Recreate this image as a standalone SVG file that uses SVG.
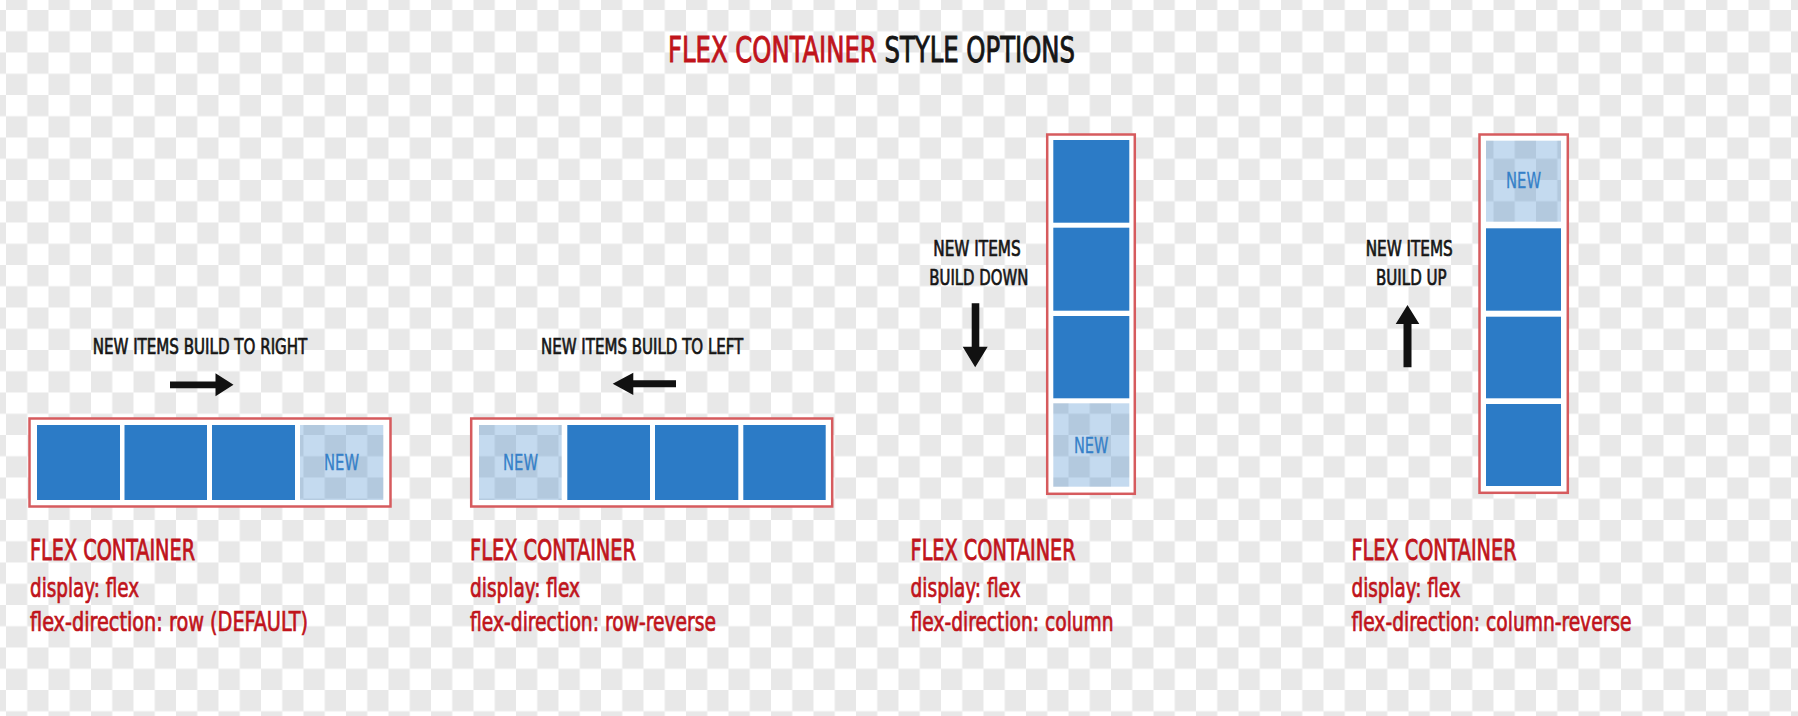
<svg xmlns="http://www.w3.org/2000/svg" width="1798" height="716" viewBox="0 0 1798 716">
  <defs>
    <pattern id="checker" patternUnits="userSpaceOnUse" x="6" y="10" width="42.5" height="42.5">
      <rect x="0" y="0" width="42.5" height="42.5" fill="#ffffff"/>
      <rect x="21.25" y="0" width="21.25" height="21.25" fill="#e8e8e8"/>
      <rect x="0" y="21.25" width="21.25" height="21.25" fill="#e8e8e8"/>
    </pattern>
    <style>
      .box { fill: #ffffff; stroke: #d65b5e; stroke-width: 2.5; }
      .item { fill: #2c7bc6; }
      .ghostbg { fill: url(#checker); }
      .ghost { fill: #2c7bc6; fill-opacity: 0.28; }
      text { font-family: "Liberation Sans Narrow", "DejaVu Sans Condensed", "Liberation Sans", sans-serif; }
      .newtxt { font-size: 22px; fill: #3580c8; stroke: #3580c8; stroke-width: 0.3; }
      .lbl { font-size: 22px; fill: #151515; stroke: #151515; stroke-width: 0.7; }
      .title { font-size: 35px; stroke-width: 0.9; }
      .red { fill: #c0141b; stroke: #c0141b; }
      .blk { fill: #151515; stroke: #151515; }
      .head { font-size: 29px; fill: #c0141b; stroke: #c0141b; stroke-width: 0.8; }
      .body { font-size: 26px; fill: #c0141b; stroke: #c0141b; stroke-width: 0.7; }
      .arrow { fill: #111111; }
    </style>
  </defs>

  <rect x="0" y="0" width="1798" height="716" fill="url(#checker)"/>

  <g id="title">
    <text class="title" x="668" y="62" textLength="407" lengthAdjust="spacingAndGlyphs"><tspan class="red">FLEX CONTAINER</tspan><tspan class="blk"> STYLE OPTIONS</tspan></text>
  </g>

  <!-- Container 1: row -->
  <g id="container-row">
    <rect class="box" x="29.5" y="418.5" width="361" height="88"/>
    <rect class="item" x="37" y="425" width="83" height="75"/>
    <rect class="item" x="124.5" y="425" width="82.5" height="75"/>
    <rect class="item" x="212" y="425" width="83" height="75"/>
    <rect class="ghostbg" x="300" y="425" width="83.3" height="75"/>
    <rect class="ghost" x="300" y="425" width="83.3" height="75"/>
    <text class="newtxt" x="341.5" y="470" text-anchor="middle" textLength="35" lengthAdjust="spacingAndGlyphs">NEW</text>
  </g>

  <!-- Container 2: row-reverse -->
  <g id="container-row-reverse">
    <rect class="box" x="471.2" y="418.5" width="361" height="88"/>
    <rect class="ghostbg" x="479" y="425" width="82.7" height="75"/>
    <rect class="ghost" x="479" y="425" width="82.7" height="75"/>
    <text class="newtxt" x="520.5" y="470" text-anchor="middle" textLength="35" lengthAdjust="spacingAndGlyphs">NEW</text>
    <rect class="item" x="567.3" y="425" width="82.7" height="75"/>
    <rect class="item" x="655" y="425" width="83.3" height="75"/>
    <rect class="item" x="743.3" y="425" width="82.4" height="75"/>
  </g>

  <!-- Container 3: column -->
  <g id="container-column">
    <rect class="box" x="1047.2" y="134.5" width="87.6" height="359.3"/>
    <rect class="item" x="1053.3" y="140" width="76" height="82.7"/>
    <rect class="item" x="1053.3" y="227.7" width="76" height="83"/>
    <rect class="item" x="1053.3" y="316" width="76" height="82.3"/>
    <rect class="ghostbg" x="1053.3" y="403.3" width="76" height="83.4"/>
    <rect class="ghost" x="1053.3" y="403.3" width="76" height="83.4"/>
    <text class="newtxt" x="1091.2" y="452.6" text-anchor="middle" textLength="34.5" lengthAdjust="spacingAndGlyphs">NEW</text>
  </g>

  <!-- Container 4: column-reverse -->
  <g id="container-column-reverse">
    <rect class="box" x="1479.5" y="134.5" width="88.3" height="358.3"/>
    <rect class="ghostbg" x="1486" y="140.7" width="75" height="81"/>
    <rect class="ghost" x="1486" y="140.7" width="75" height="81"/>
    <text class="newtxt" x="1523.5" y="188.3" text-anchor="middle" textLength="35" lengthAdjust="spacingAndGlyphs">NEW</text>
    <rect class="item" x="1486" y="228.3" width="75" height="82.4"/>
    <rect class="item" x="1486" y="316.7" width="75" height="81.6"/>
    <rect class="item" x="1486" y="404" width="75" height="82"/>
  </g>

  <!-- Direction labels -->
  <g id="label-right">
    <text class="lbl" x="92.7" y="354.3" textLength="214.6" lengthAdjust="spacingAndGlyphs">NEW ITEMS BUILD TO RIGHT</text>
  </g>
  <g id="label-left">
    <text class="lbl" x="541" y="354.3" textLength="202.3" lengthAdjust="spacingAndGlyphs">NEW ITEMS BUILD TO LEFT</text>
  </g>
  <g id="label-down">
    <text class="lbl" x="933.3" y="256" textLength="87.4" lengthAdjust="spacingAndGlyphs">NEW ITEMS</text>
    <text class="lbl" x="929.3" y="285" textLength="99" lengthAdjust="spacingAndGlyphs">BUILD DOWN</text>
  </g>
  <g id="label-up">
    <text class="lbl" x="1365.7" y="256" textLength="87" lengthAdjust="spacingAndGlyphs">NEW ITEMS</text>
    <text class="lbl" x="1376" y="285" textLength="70.7" lengthAdjust="spacingAndGlyphs">BUILD UP</text>
  </g>

  <!-- Direction arrows -->
  <g id="connectors">
    <path class="arrow" d="M170,381.5 H215.5 V373.3 L233.5,384.8 L215.5,396.2 V388.3 H170 Z"/>
    <path class="arrow" d="M676,380.2 H633.3 V372.7 L612.7,383.8 L633.3,395 V387.2 H676 Z"/>
    <path class="arrow" d="M971.7,303.3 H979.3 V346.7 H987.7 L975.2,367.3 L962.7,346.7 H971.7 Z"/>
    <path class="arrow" d="M1403.5,367.3 H1411.5 V324 H1419.3 L1407.5,305 L1395.7,324 H1403.5 Z"/>
  </g>

  <!-- Captions -->
  <g id="caption-row">
    <text class="head" x="30" y="560" textLength="165" lengthAdjust="spacingAndGlyphs">FLEX CONTAINER</text>
    <text class="body" x="30" y="596.7" textLength="109" lengthAdjust="spacingAndGlyphs">display: flex</text>
    <text class="body" x="30" y="631" textLength="278" lengthAdjust="spacingAndGlyphs">flex-direction: row (DEFAULT)</text>
  </g>
  <g id="caption-row-reverse">
    <text class="head" x="470" y="560" textLength="166" lengthAdjust="spacingAndGlyphs">FLEX CONTAINER</text>
    <text class="body" x="470" y="596.7" textLength="110" lengthAdjust="spacingAndGlyphs">display: flex</text>
    <text class="body" x="470" y="631" textLength="246" lengthAdjust="spacingAndGlyphs">flex-direction: row-reverse</text>
  </g>
  <g id="caption-column">
    <text class="head" x="910.6" y="560" textLength="165" lengthAdjust="spacingAndGlyphs">FLEX CONTAINER</text>
    <text class="body" x="910.6" y="596.7" textLength="110" lengthAdjust="spacingAndGlyphs">display: flex</text>
    <text class="body" x="910.6" y="631" textLength="203" lengthAdjust="spacingAndGlyphs">flex-direction: column</text>
  </g>
  <g id="caption-column-reverse">
    <text class="head" x="1351.5" y="560" textLength="165" lengthAdjust="spacingAndGlyphs">FLEX CONTAINER</text>
    <text class="body" x="1351.5" y="596.7" textLength="109" lengthAdjust="spacingAndGlyphs">display: flex</text>
    <text class="body" x="1351.5" y="631" textLength="280" lengthAdjust="spacingAndGlyphs">flex-direction: column-reverse</text>
  </g>
</svg>
